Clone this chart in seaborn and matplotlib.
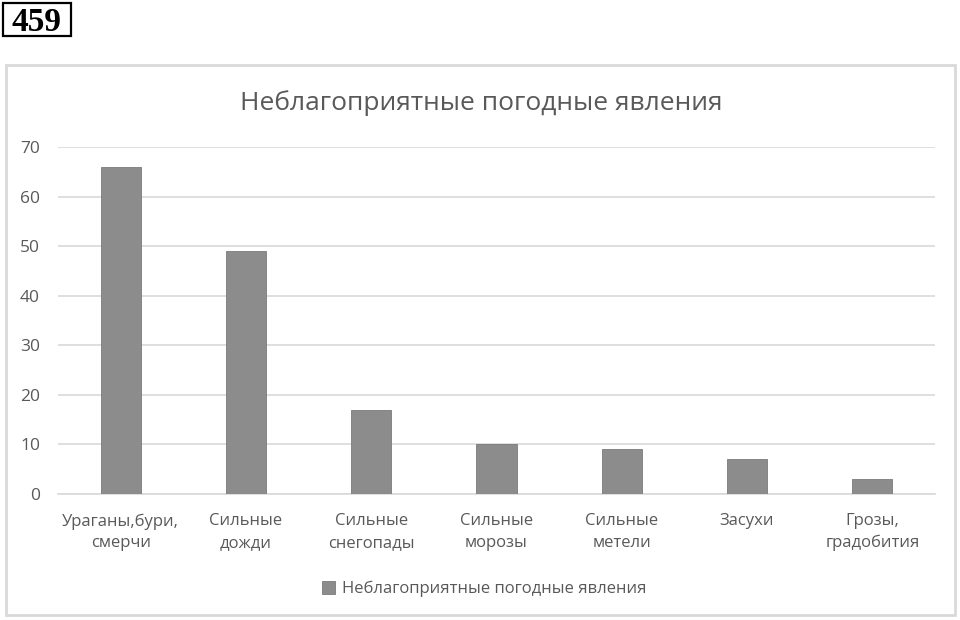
import matplotlib
matplotlib.use("Agg")
import matplotlib.pyplot as plt
import seaborn as sns
import pandas as pd
from matplotlib.patches import Rectangle

categories = ["Ураганы,бури,\nсмерчи", "Сильные\nдожди", "Сильные\nснегопады",
              "Сильные\nморозы", "Сильные\nметели", "Засухи", "Грозы,\nградобития"]
values = [66, 49, 17, 10, 9, 7, 3]
series_name = "Неблагоприятные погодные явления"
yticks = [0, 10, 20, 30, 40, 50, 60, 70]

sns.set_theme(style="white")
plt.rcParams['font.family'] = ['Open Sans', 'DejaVu Sans']

df = pd.DataFrame({"cat": categories, "val": values})

fig = plt.figure(figsize=(9.6, 6.2), dpi=100)
ax = fig.add_axes([58/960, 1-494/620, (935-58)/960, (494-147)/620])

bar_color = "#8c8c8c"
sns.barplot(data=df, x="cat", y="val", color=bar_color, width=0.32,
            edgecolor="#7a7a7a", linewidth=0.6, saturation=1, ax=ax, zorder=3)

ax.set_xlim(-0.5, len(categories) - 0.5)
ax.set_ylim(0, 70)
ax.set_yticks(yticks)
ax.set_yticklabels([str(t) for t in yticks])
ax.yaxis.grid(True, color="#d9d9d9", linewidth=1.2, zorder=0)
ax.xaxis.grid(False)
for s in ["top", "right", "left"]:
    ax.spines[s].set_visible(False)
ax.spines["bottom"].set_color("#d9d9d9")
ax.spines["bottom"].set_linewidth(1.2)
ax.set_xlabel("")
ax.set_ylabel("")
ax.tick_params(axis="y", length=0, pad=13, labelsize=12.5, labelcolor="#595959")
ax.tick_params(axis="x", length=0, pad=14, labelsize=12, labelcolor="#595959")
for lbl in ax.get_xticklabels():
    lbl.set_linespacing(1.45)

# title
fig.text(481/960, 1-103/620, series_name, ha="center", va="center",
         fontsize=19, color="#595959")

# legend
handle = Rectangle((0, 0), 1, 1, facecolor=bar_color, edgecolor="#7a7a7a", linewidth=0.6)
fig.legend([handle], [series_name], loc="center", bbox_to_anchor=(484/960, 1-589/620),
           frameon=False, fontsize=12, handlelength=0.8, handleheight=0.8,
           handletextpad=0.4, labelcolor="#595959")

# chart frame
fig.patches.append(Rectangle((6/960, 1-615/620), (955-6)/960, (615-65)/620,
                             transform=fig.transFigure, fill=False,
                             edgecolor="#d9d9d9", linewidth=2))

# number box
fig.patches.append(Rectangle((3/960, 1-36/620), (71-3)/960, (36-3)/620,
                             transform=fig.transFigure, fill=False,
                             edgecolor="black", linewidth=1.6))
fig.text(37/960, 1-31/620, "459", ha="center", va="baseline", fontsize=24,
         fontweight="bold", family="Liberation Serif", color="black")

fig.savefig("out.png", dpi=100)
